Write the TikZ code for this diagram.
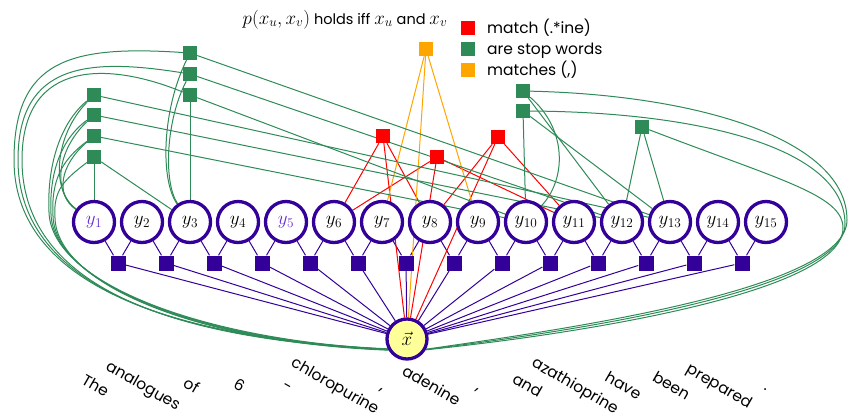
\documentclass[tikz,border=0pt]{standalone}
\usepackage{fix-cm}
\usepackage[no-math]{fontspec}
\setmainfont{Poppins}
\usetikzlibrary{backgrounds}
\definecolor{indigo}{RGB}{51,0,153}
\definecolor{sgreen}{RGB}{46,139,87}
\definecolor{orng}{RGB}{255,165,0}
\definecolor{ylw}{RGB}{255,255,153}
\definecolor{lpurp}{RGB}{102,51,204}
\newcommand{\titlemath}[1]{{\fontsize{19}{20}\selectfont$#1$}}
\begin{document}
\begin{tikzpicture}[x=1pt,y=-1pt,
  ynode/.style={circle, draw=indigo, line width=3.3pt, fill=white, minimum size=41pt, inner sep=0pt, font=\fontsize{19}{20}\selectfont},
  xnode/.style={circle, draw=indigo, line width=3.3pt, fill=ylw, minimum size=40pt, inner sep=0pt, font=\fontsize{19}{20}\selectfont},
  fac/.style={rectangle, fill=indigo, minimum size=15pt, inner sep=0pt},
  gsq/.style={rectangle, fill=sgreen, minimum size=14pt, inner sep=0pt},
  rsq/.style={rectangle, fill=red, minimum size=14pt, inner sep=0pt},
  osq/.style={rectangle, fill=orng, minimum size=14pt, inner sep=0pt},
  pe/.style={draw=indigo, line width=1pt},
  ge/.style={draw=sgreen, line width=1pt},
  re/.style={draw=red, line width=1pt},
  oe/.style={draw=orng, line width=1pt},
  word/.style={rotate=-30, anchor=center, inner sep=0pt, text height=0.75em, text depth=0.25em, font=\fontsize{15.5}{18}\selectfont},
  legtxt/.style={anchor=base west, inner sep=0pt, font=\fontsize{15.5}{18}\selectfont}
]
\useasboundingbox (0,0) rectangle (849,416);

% variable nodes
\foreach \i/\c in {1/lpurp,2/black,3/black,4/black,5/lpurp,6/black,7/black,8/black,9/black,10/black,11/black,12/black,13/black,14/black,15/black}
  \node[ynode, text=\c] (y\i) at ({94+48*(\i-1)},222) {$y_{\i}$};
\foreach \i in {1,...,14}
  \node[fac] (f\i) at ({118+48*(\i-1)},263) {};
\node[xnode] (x) at (407,339) {$\vec{x}$};

% pairwise factors
\node[gsq] (g113) at (94,95) {};
\node[gsq] (g112) at (94,115) {};
\node[gsq] (g110) at (94,136) {};
\node[gsq] (g13) at (94,157) {};
\node[gsq] (g313) at (190,53) {};
\node[gsq] (g312) at (190,74) {};
\node[gsq] (g310) at (190,95) {};
\node[gsq] (g1012) at (523,91) {};
\node[gsq] (g1013) at (523,111) {};
\node[gsq] (g1213) at (642,127) {};
\node[rsq] (r68) at (383,136) {};
\node[rsq] (r611) at (437,157) {};
\node[rsq] (r811) at (498,137) {};
\node[osq] (o79) at (426,49) {};

% title and legend
\node[anchor=base, inner sep=0pt, font=\fontsize{14.5}{16}\selectfont] (title) at (345,24) {\titlemath{p(x_u,x_v)} holds iff \titlemath{x_u} and \titlemath{x_v}};
\node[rsq] (l1) at (468,28) {};
\node[gsq] (l2) at (468,49) {};
\node[osq] (l3) at (468,69.5) {};
\node[legtxt] (t1) at (487,33) {match (.*ine)};
\node[legtxt] (t2) at (487,54) {are stop words};
\node[legtxt] (t3) at (487,75) {matches (,)};

% words
\foreach \w [count=\i] in {The,analogues,of,6,-,chloropurine,{,},adenine,{,},and,azathioprine,have,been,prepared,.}
  \node[word] (w\i) at ({94+48*(\i-1)},388) {\w};

\begin{scope}[on background layer]
% chain factors
\foreach \i [evaluate=\i as \j using int(\i+1)] in {1,...,14} {
  \draw[pe] (f\i) -- (y\i);
  \draw[pe] (f\i) -- (y\j);
  \draw[pe] (f\i) -- (x);
}
% red
\draw[re] (r68) -- (y6); \draw[re] (r68) -- (y8); \draw[re] (r68) -- (x);
\draw[re] (r611) -- (y6); \draw[re] (r611) -- (y11); \draw[re] (r611) -- (x);
\draw[re] (r811) -- (y8); \draw[re] (r811) -- (y11); \draw[re] (r811) -- (x);
% orange
\draw[oe] (o79) -- (y7); \draw[oe] (o79) -- (y9); \draw[oe] (o79) -- (x);
% green straight
\draw[ge] (g13) -- (y1); \draw[ge] (g13) -- (y3);
\draw[ge] (g110) -- (y10); \draw[ge] (g112) -- (y12); \draw[ge] (g113) -- (y13);
\draw[ge] (g310) -- (y3); \draw[ge] (g310) -- (y10); \draw[ge] (g312) -- (y12); \draw[ge] (g313) -- (y13);
\draw[ge] (g1012) -- (y12); \draw[ge] (g1013) -- (y10); \draw[ge] (g1013) -- (y13);
\draw[ge] (g1213) -- (y12); \draw[ge] (g1213) -- (y13);
% green curves to y
\draw[ge] (g113) .. controls (55,135) and (50,190) .. (y1);
\draw[ge] (g112) .. controls (57,150) and (52,192) .. (y1);
\draw[ge] (g110) .. controls (60,165) and (55,195) .. (y1);
\draw[ge] (g313) .. controls (162,110) and (160,180) .. (y3);
\draw[ge] (g312) .. controls (166,120) and (163,182) .. (y3);
\draw[ge] (g1012) .. controls (568,130) and (566,180) .. (y10);
% green curves to x (left)
\draw[ge] (g113) .. controls (58,125) and (47,170) .. (49,212) .. controls (51,282) and (200,340) .. (x.208);
\draw[ge] (g112) .. controls (60,140) and (49,175) .. (51,214) .. controls (53,283) and (200,341) .. (x.209);
\draw[ge] (g110) .. controls (62,160) and (51,180) .. (53,216) .. controls (55,284) and (200,342) .. (x.210);
\draw[ge] (g13) .. controls (64,180) and (53,190) .. (55,218) .. controls (57,285) and (200,343) .. (x.211);
\draw[ge] (g313) .. controls (70,45) and (14,60) .. (14,160) .. controls (14,262) and (120,336) .. (x.207);
\draw[ge] (g312) .. controls (90,58) and (18,62) .. (18,160) .. controls (18,262) and (120,337) .. (x.208);
\draw[ge] (g310) .. controls (110,62) and (22,58) .. (22,160) .. controls (22,262) and (120,338) .. (x.209);
% green curves to x (right)
\draw[ge] (g1012) .. controls (700,95) and (847,140) .. (847,220) .. controls (847,290) and (560,330) .. (x.-28);
\draw[ge] (g1013) .. controls (700,112) and (845,148) .. (845,224) .. controls (845,292) and (560,333) .. (x.-29);
\draw[ge] (g1213) .. controls (780,180) and (843,195) .. (843,228) .. controls (843,295) and (560,336) .. (x.-30);
\end{scope}
\end{tikzpicture}
\end{document}
